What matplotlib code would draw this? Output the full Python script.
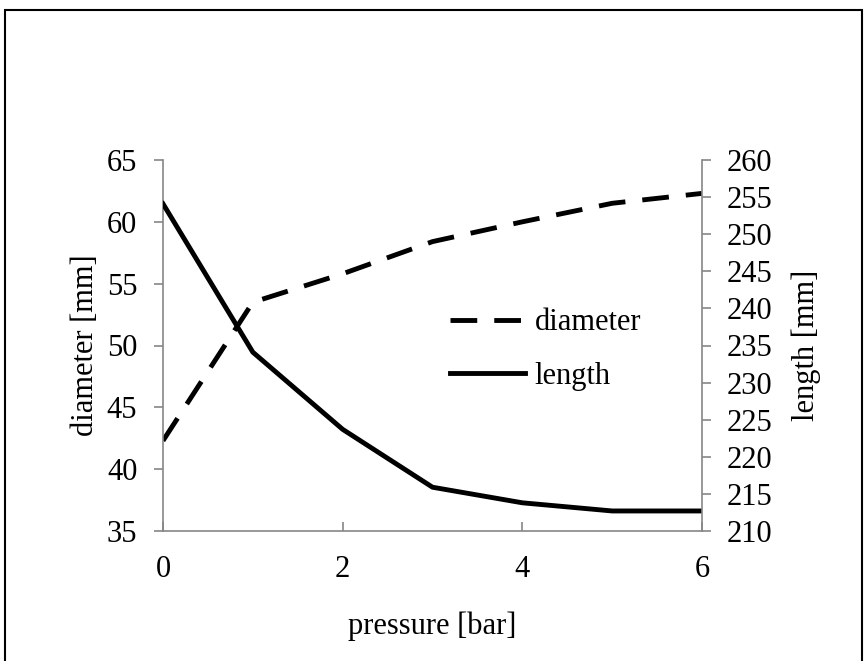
import matplotlib
matplotlib.use("Agg")
import matplotlib.pyplot as plt
from matplotlib.patches import Rectangle

pressure = [0, 1, 2, 3, 4, 5, 6]
diameter = [42.3, 53.5, 55.8, 58.4, 60.0, 61.5, 62.3]
length = [254.1, 234.1, 223.7, 215.9, 213.8, 212.7, 212.7]
x_ticks = [0, 2, 4, 6]
d_ticks = [35, 40, 45, 50, 55, 60, 65]
l_ticks = [210, 215, 220, 225, 230, 235, 240, 245, 250, 255, 260]

plt.rcParams['font.family'] = ['Liberation Serif', 'DejaVu Serif']
FS = 22
GRAY = '#868686'

fig = plt.figure(figsize=(8.65, 6.61), dpi=100)
W, H = 865, 661
ax = fig.add_axes([163 / W, (H - 531) / H, 539 / W, 371 / H])
ax2 = ax.twinx()

l1, = ax.plot(pressure, diameter, color='black', lw=3.5, dashes=(5.5, 3.5),
              label='diameter', solid_capstyle='butt', dash_capstyle='butt')
l2, = ax2.plot(pressure, length, color='black', lw=3.5, label='length')

ax.set_xlim(0, 6)
ax.set_ylim(35, 65)
ax2.set_ylim(210, 260)
ax.set_xticks(x_ticks)
ax.set_yticks(d_ticks)
ax2.set_yticks(l_ticks)

for a in (ax, ax2):
    a.spines['top'].set_visible(False)
    for s in ('left', 'right', 'bottom'):
        a.spines[s].set_color(GRAY)
        a.spines[s].set_linewidth(1.2)
ax.spines['right'].set_visible(False)
ax2.spines['left'].set_visible(False)
ax2.spines['bottom'].set_visible(False)

ax.tick_params(axis='y', direction='out', length=6.5, width=1.2, color=GRAY,
               labelsize=FS, pad=12)
ax.tick_params(axis='x', direction='in', length=6.5, width=1.2, color=GRAY,
               labelsize=FS, pad=17)
ax2.tick_params(axis='y', direction='out', length=6.5, width=1.2, color=GRAY,
                labelsize=FS, pad=11)

ax.set_xlabel('pressure [bar]', fontsize=FS, labelpad=20)
ax.set_ylabel('diameter [mm]', fontsize=FS, labelpad=5)
ax2.set_ylabel('length [mm]', fontsize=FS, labelpad=14)

ax.legend(handles=[l1, l2], loc='upper left', bbox_to_anchor=(0.532, 0.60),
          frameon=False, fontsize=FS, borderpad=0, borderaxespad=0,
          handlelength=2.45, handletextpad=0.33, labelspacing=0.8)

fig.patches.append(Rectangle((5 / W, -0.05), 857 / W, 1.05 - 10 / H,
                             transform=fig.transFigure, fill=False,
                             edgecolor='black', lw=1.5))

fig.savefig('out.png', dpi=100)
